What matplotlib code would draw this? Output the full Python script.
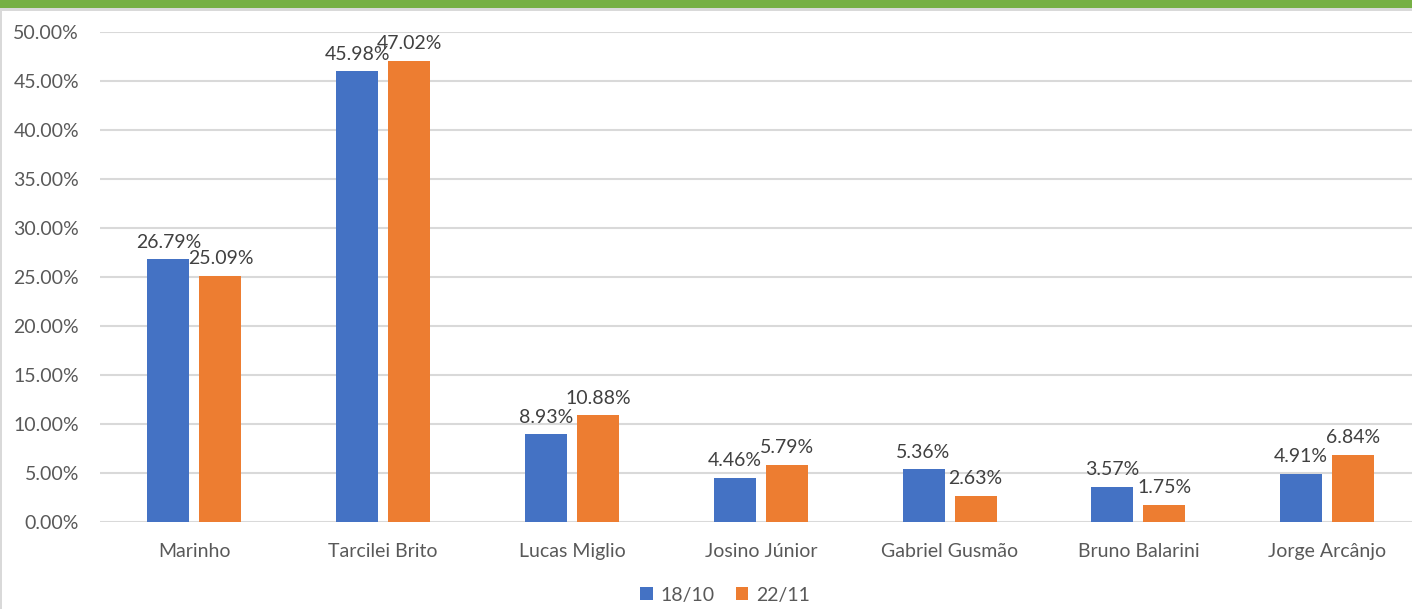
import matplotlib.pyplot as plt
import matplotlib.patches as mpatches
import numpy as np

names = ['Marinho', 'Tarcilei Brito', 'Lucas Miglio', 'Josino Júnior',
         'Gabriel Gusmão', 'Bruno Balarini', 'Jorge Arcânjo']
s1810 = [26.79, 45.98, 8.93, 4.46, 5.36, 3.57, 4.91]
s2211 = [25.09, 47.02, 10.88, 5.79, 2.63, 1.75, 6.84]
series_labels = ['18/10', '22/11']

blue = '#4472C4'
orange = '#ED7D31'
txt = '#595959'

plt.rcParams['font.family'] = ['Lato', 'DejaVu Sans']

fig = plt.figure(figsize=(14.12, 6.09), dpi=100)
W, H = 1412, 609

# top green band and frame lines
fig.patches.append(mpatches.Rectangle((0, 1 - 8 / H), 1, 8 / H, transform=fig.transFigure,
                                      facecolor='#76B044', edgecolor='none', zorder=0))
fig.patches.append(mpatches.Rectangle((0, 1 - 11 / H), 1, 3 / H, transform=fig.transFigure,
                                      facecolor='#d9d9d9', edgecolor='none', zorder=0))
fig.patches.append(mpatches.Rectangle((0, 0), 2 / W, 1 - 8 / H, transform=fig.transFigure,
                                      facecolor='#d9d9d9', edgecolor='none', zorder=0))

ax = fig.add_axes([100 / W, (H - 522) / H, 1 - 100 / W, (522 - 32) / H])

x = np.arange(len(names))
w = 0.222
off = 0.138
b1 = ax.bar(x - off, s1810, w, color=blue, label=series_labels[0], zorder=3)
b2 = ax.bar(x + off, s2211, w, color=orange, label=series_labels[1], zorder=3)

for bars, vals in ((b1, s1810), (b2, s2211)):
    for r, v in zip(bars, vals):
        ax.text(r.get_x() + r.get_width() / 2, v + 0.9, f'{v:.2f}%', ha='center', va='bottom',
                fontsize=14, color='#404040', zorder=4)

ax.set_ylim(0, 50)
ax.set_xlim(-0.5, -0.5 + 1312 / 188.8)
ax.set_yticks(np.arange(0, 51, 5))
ax.set_yticklabels([f'{v:.2f}%' for v in np.arange(0, 51, 5)])
ax.set_xticks(x)
ax.set_xticklabels(names)
ax.tick_params(axis='both', length=0, labelsize=14, labelcolor=txt)
ax.tick_params(axis='y', pad=15)
ax.tick_params(axis='x', pad=15)
ax.yaxis.grid(True, color='#d9d9d9', linewidth=1.5, zorder=0)
for s in ax.spines.values():
    s.set_visible(False)

leg = fig.legend(loc='center', bbox_to_anchor=(725 / W, 1 - 595 / H), ncol=2, frameon=False,
                 fontsize=14, handlelength=0.65, handleheight=0.65, handletextpad=0.4,
                 columnspacing=1.1, labelcolor=txt)

fig.savefig('out.png', dpi=100, facecolor='white')
